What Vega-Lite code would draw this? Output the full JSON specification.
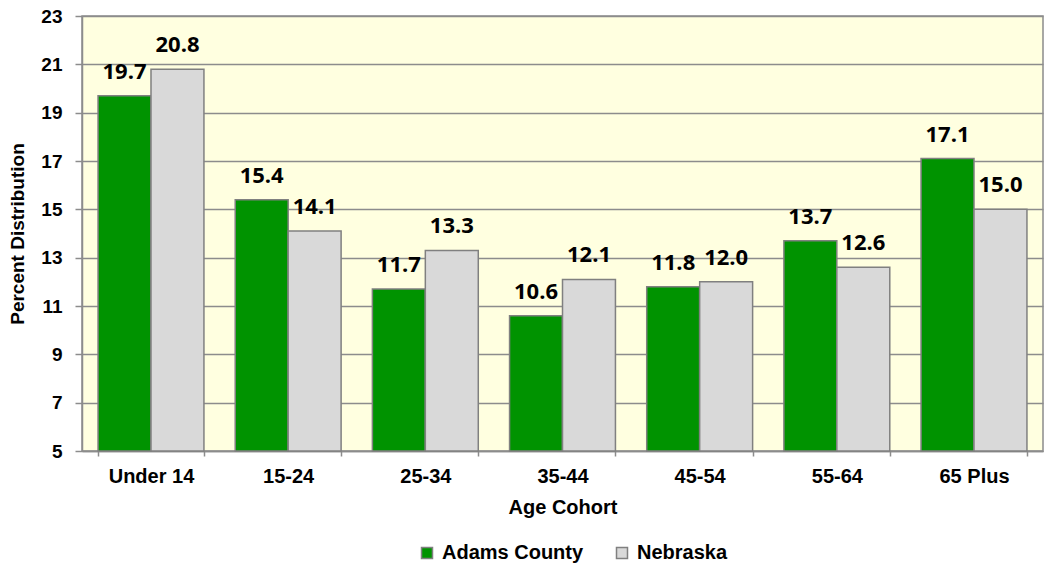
{
  "$schema": "https://vega.github.io/schema/vega-lite/v6.json",
  "width": 961,
  "height": 435,
  "autosize": "none",
  "padding": {"left": 82, "top": 16, "right": 4, "bottom": 116},
  "background": "white",
  "config": {
    "view": {"fill": "#FFFFE0", "stroke": "#8c8c8c", "strokeWidth": 1.5},
    "font": "Liberation Sans"
  },
  "data": {
    "values": [
      {"cohort": "Under 14", "area": "Adams County", "pct": 19.7},
      {"cohort": "Under 14", "area": "Nebraska", "pct": 20.8},
      {"cohort": "15-24", "area": "Adams County", "pct": 15.4},
      {"cohort": "15-24", "area": "Nebraska", "pct": 14.1},
      {"cohort": "25-34", "area": "Adams County", "pct": 11.7},
      {"cohort": "25-34", "area": "Nebraska", "pct": 13.3},
      {"cohort": "35-44", "area": "Adams County", "pct": 10.6},
      {"cohort": "35-44", "area": "Nebraska", "pct": 12.1},
      {"cohort": "45-54", "area": "Adams County", "pct": 11.8},
      {"cohort": "45-54", "area": "Nebraska", "pct": 12.0},
      {"cohort": "55-64", "area": "Adams County", "pct": 13.7},
      {"cohort": "55-64", "area": "Nebraska", "pct": 12.6},
      {"cohort": "65 Plus", "area": "Adams County", "pct": 17.1},
      {"cohort": "65 Plus", "area": "Nebraska", "pct": 15.0}
    ]
  },
  "encoding": {
    "x": {
      "field": "cohort",
      "type": "nominal",
      "sort": ["Under 14", "15-24", "25-34", "35-44", "45-54", "55-64", "65 Plus"],
      "scale": {"paddingInner": 0.228, "paddingOuter": 0.117},
      "axis": {
        "title": "Age Cohort",
        "titleFont": "Liberation Sans",
        "titleFontSize": 20,
        "titleFontWeight": "bold",
        "titleColor": "#000",
        "titlePadding": 11,
        "labelFont": "Liberation Sans",
        "labelFontSize": 20,
        "labelFontWeight": "bold",
        "labelColor": "#000",
        "labelAngle": 0,
        "labelPadding": 10,
        "domainColor": "#8c8c8c",
        "domainWidth": 1.5,
        "tickColor": "#8c8c8c",
        "tickWidth": 1.5,
        "tickSize": 5,
        "tickBand": "extent",
        "grid": false
      }
    },
    "xOffset": {
      "field": "area",
      "type": "nominal",
      "sort": ["Adams County", "Nebraska"]
    }
  },
  "layer": [
    {
      "mark": {"type": "bar", "stroke": "#808080", "strokeWidth": 1.5},
      "encoding": {
        "y": {
          "field": "pct",
          "type": "quantitative",
          "scale": {"domain": [5, 23], "zero": false, "nice": false},
          "axis": {
            "title": "Percent Distribution",
            "titleFont": "Liberation Sans",
            "titleFontSize": 19,
            "titleFontWeight": "bold",
            "titleColor": "#000",
            "titlePadding": 13,
            "values": [5, 7, 9, 11, 13, 15, 17, 19, 21, 23],
            "labelFont": "Liberation Sans",
            "labelFontSize": 19,
            "labelFontWeight": "bold",
            "labelColor": "#000",
            "labelPadding": 13,
            "domainColor": "#8c8c8c",
            "domainWidth": 1.5,
            "tickColor": "#8c8c8c",
            "tickWidth": 1.5,
            "tickSize": 7,
            "gridColor": "#8c8c8c",
            "gridWidth": 1.5
          }
        },
        "y2": {"datum": 5},
        "fill": {
          "field": "area",
          "type": "nominal",
          "scale": {"domain": ["Adams County", "Nebraska"], "range": ["#009300", "#d9d9d9"]},
          "legend": {
            "title": null,
            "orient": "none",
            "legendX": 335,
            "legendY": 527,
            "direction": "horizontal",
            "symbolType": "square",
            "symbolSize": 121,
            "symbolStrokeColor": "#808080",
            "symbolStrokeWidth": 1.5,
            "labelFont": "Liberation Sans",
            "labelFontSize": 20,
            "labelFontWeight": "bold",
            "labelColor": "#000",
            "labelOffset": 5,
            "columnPadding": 28
          }
        }
      }
    },
    {
      "mark": {"type": "text", "baseline": "alphabetic", "dy": -17, "font": "Open Sans", "fontSize": 22, "fontWeight": "bold", "color": "#000"},
      "encoding": {
        "y": {"field": "pct", "type": "quantitative"},
        "text": {"field": "pct", "type": "quantitative", "format": ".1f"}
      }
    }
  ]
}
